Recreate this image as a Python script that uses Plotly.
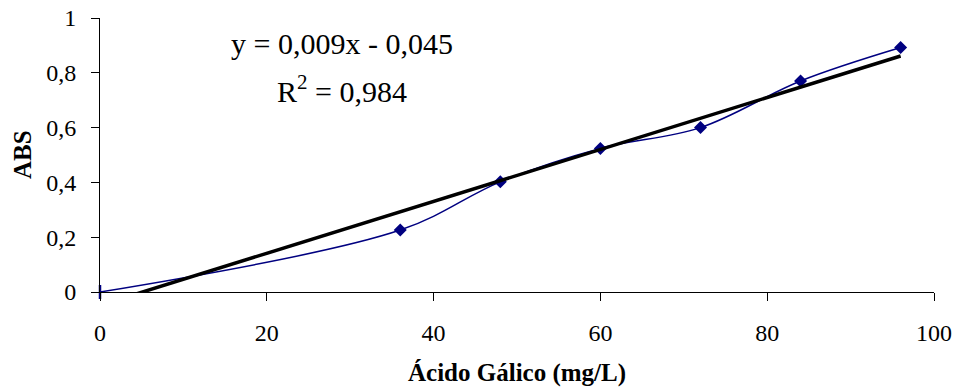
import numpy as np
import plotly.graph_objects as go

# Calibration data: gallic acid concentration vs absorbance
concentracao = [0, 36, 48, 60, 72, 84, 96]
absorbancia = [0.0, 0.226, 0.402, 0.524, 0.600, 0.770, 0.892]

x_ticks = [0, 20, 40, 60, 80, 100]
y_ticks = [0, 0.2, 0.4, 0.6, 0.8, 1]
y_tick_text = ["0", "0,2", "0,4", "0,6", "0,8", "1"]

equacao = "y = 0,009x - 0,045"
r_quadrado = "R<sup>2</sup> = 0,984"
titulo_x = "<b>Ácido Gálico (mg/L)</b>"
titulo_y = "<b>ABS</b>"

# Linear least-squares trend line
slope, intercept = np.polyfit(concentracao, absorbancia, 1)
x_fit = np.array([concentracao[0], concentracao[-1]])
y_fit = slope * x_fit + intercept

navy = "#000080"
serif = "Liberation Serif"

fig = go.Figure()

fig.add_trace(go.Scatter(
    x=concentracao, y=absorbancia,
    mode="lines+markers",
    line=dict(color=navy, width=1.5, shape="spline", smoothing=1),
    marker=dict(
        color=navy, size=10,
        symbol=["line-ns"] + ["diamond"] * (len(concentracao) - 1),
        line=dict(color=navy, width=[2.5] + [0] * (len(concentracao) - 1)),
    ),
    cliponaxis=False,
    showlegend=False,
    hoverinfo="x+y",
))

fig.add_trace(go.Scatter(
    x=x_fit, y=y_fit,
    mode="lines",
    line=dict(color="black", width=3.5),
    showlegend=False,
    hoverinfo="skip",
))

# Trend line equation and coefficient of determination
fig.add_annotation(x=29.0, y=0.906, text=equacao, showarrow=False,
                   xref="x", yref="y",
                   font=dict(family=serif, size=30, color="black"))
fig.add_annotation(x=29.0, y=0.742, text=r_quadrado, showarrow=False,
                   xref="x", yref="y",
                   font=dict(family=serif, size=30, color="black"))

# Axis titles
fig.add_annotation(x=0.5, y=-0.296, xref="paper", yref="paper",
                   xanchor="center", yanchor="middle",
                   text=titulo_x, showarrow=False,
                   font=dict(family=serif, size=25, color="black"))
fig.add_annotation(x=-0.0935, y=0.5, xref="paper", yref="paper",
                   xanchor="center", yanchor="middle", textangle=-90,
                   text=titulo_y, showarrow=False,
                   font=dict(family=serif, size=25, color="black"))

axis_common = dict(
    showgrid=False, zeroline=False, automargin=False,
    showline=True, linecolor="black", linewidth=1,
    ticks="outside", ticklen=8, tickwidth=1, tickcolor="black",
    tickfont=dict(family=serif, size=24, color="black"),
)

fig.update_xaxes(
    range=[0, 100], tickvals=x_ticks, ticktext=[str(v) for v in x_ticks],
    ticklabelstandoff=11,
    **axis_common,
)
fig.update_yaxes(
    range=[0, 1], tickvals=y_ticks, ticktext=y_tick_text,
    ticklabelstandoff=10,
    **axis_common,
)

fig.update_layout(
    width=957, height=392,
    margin=dict(l=100, r=23, t=18, b=100),
    paper_bgcolor="white", plot_bgcolor="white",
    font=dict(family=serif),
)

fig.write_html("out.html")
